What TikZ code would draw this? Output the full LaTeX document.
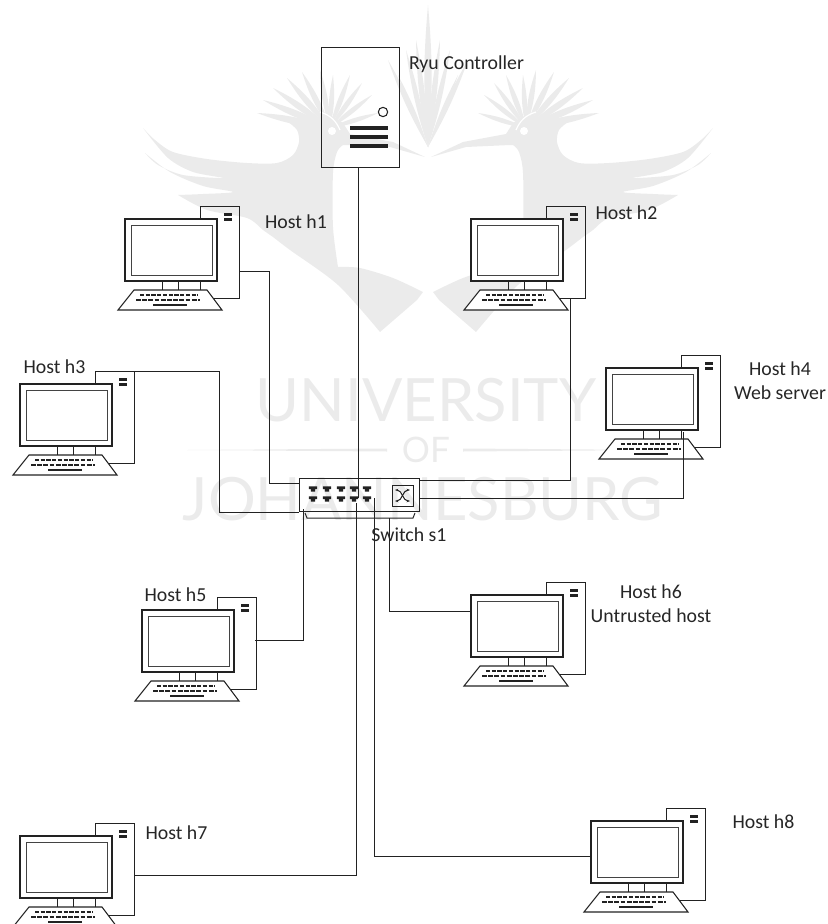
\documentclass[tikz,border=0pt]{standalone}
\usepackage{fontspec}
\setmainfont{Carlito}
\newfontfamily\crestfont{Lato}
\usepackage{xcolor}
\usetikzlibrary{arrows.meta}
\definecolor{ujgray}{HTML}{EBEBEB}
\definecolor{pcline}{HTML}{222222}
\tikzset{
  link/.style={pcline, line width=0.75pt},
  tower/.style={draw=pcline, line width=0.75pt, minimum width=1.17cm, minimum height=2.76cm, inner sep=0pt, outer sep=0pt, anchor=north west},
  hostlabel/.style={font=\fontsize{16.9}{20.5}\selectfont, text=black!85, align=center, inner sep=0pt},
  crest/.style={text=ujgray, inner sep=0pt, text depth=0pt, font=\crestfont},
  hostpc/.pic={
    \fill[pcline] (24,7) rectangle (32,10);
    \fill[pcline] (24,12) rectangle (32,15);
    \draw[pcline, fill=white, line width=0.9pt] (-75,13) rectangle (17,75);
    \draw[pcline, line width=1.5pt] (-8,13) -- (17,13) -- (17,75) -- (-20,75);
    \draw[pcline!85, line width=0.8pt] (-69,19) rectangle (12,69);
    \draw[pcline, line width=0.8pt] (-38,75) -- (-38,84) (-22,75) -- (-22,84);
    \draw[pcline, fill=white, line width=0.9pt] (-66,84) -- (7,84) -- (22,104) -- (-82,104) -- cycle;
    \draw[pcline, line width=2.2pt, dash pattern=on 3.6pt off 1.3pt] (-60,89) -- (-2,89);
    \draw[pcline, line width=2.4pt, dash pattern=on 4pt off 1.3pt] (-64,94) -- (0,94);
    \fill[pcline] (-47,97.6) rectangle (-13,100.4);
  },
  rjport/.pic={
    \fill[pcline] (-4.2,-2.7) -- (4.2,-2.7) -- (4.2,0) -- (2.2,0) -- (2.2,2.7) -- (-2.2,2.7) -- (-2.2,0) -- (-4.2,0) -- cycle;
  }
}

\begin{document}
\begin{tikzpicture}[x=0.03cm, y=-0.03cm]
  \useasboundingbox (0,0) rectangle (827,924);

  \foreach \s in {1,-1} {
    \begin{scope}[shift={(428,0)}, xscale=\s]
      \fill[ujgray] plot[smooth] coordinates {(-285,128) (-273,140) (-255,152) (-221,159) (-181,163) (-151,163) (-135,155) (-129,142) (-131,130) (-140,122)}
        -- (-98,115) -- (-85,123) -- (-78,134) -- (-35,142) -- (-3,157) -- (-38,147) -- (-82,145)
        -- plot[smooth] coordinates {(-85,145) (-91,152) (-95,173) (-95,227) (-90,267)}
        -- plot[smooth] coordinates {(-90,267) (-68,268) (-35,278) (-5,292)}
        -- (-11,300)
        -- plot[smooth] coordinates {(-48,332) (-90,285) (-138,250) (-155,237)}
        -- plot[smooth] coordinates {(-155,237) (-165,230) (-181,218) (-221,210) (-250,195)}
        -- plot[smooth] coordinates {(-250,195) (-225,194) (-195,192) (-225,186) (-258,172) (-283,153)}
        -- plot[smooth] coordinates {(-283,153) (-270,165) (-245,175) (-205,178) (-235,172) (-260,158) (-285,128)}
        -- cycle;
      \foreach \tx/\ty in {-171/113,-165/100,-155/88,-141/78,-126/72,-108/70,-95/75,-78/75,-66/83,-56/95,-50/113} {
        \fill[ujgray] (-98,128) to[bend left=9] (\tx,\ty) to[bend left=9] cycle;
      }
      \fill[white] (-96,131) circle (4);
      \draw[white, line width=1pt] (-108,112) to[bend left=25] (-88,130);
    \end{scope}
  }
  \foreach \tx/\ty in {-40/60,-22/50,-12/40,0/5,12/40,22/50,40/60,-30/75,30/75} {
    \fill[ujgray] (428+0,147) to[bend left=5] (428+\tx,\ty) to[bend left=5] cycle;
  }

  \node[crest, anchor=center] (wmuni) at (426,400) {\fontsize{51}{51}\selectfont UNIVERSITY};
  \node[crest, anchor=center] (wmof) at (426,450) {\fontsize{30}{30}\selectfont OF};
  \node[crest, anchor=center] (wmjoh) at (423,498.5) {\fontsize{51}{51}\selectfont JOHANNESBURG};
  \fill[ujgray] (187,450) -- (387,448.5) -- (387,451.5) -- cycle;
  \fill[ujgray] (463,448.5) -- (660,450) -- (463,451.5) -- cycle;

  \foreach \n/\x/\y in {h1/200/206, h2/546/206, h3/95/371, h4/681/355, h5/217/597, h6/546/582, h7/95/823, h8/666/808} {
    \node[tower] (\n) at (\x,\y) {};
    \pic at (\n.north west) {hostpc};
  }

  \node[draw=pcline, line width=0.8pt, minimum width=2.34cm, minimum height=3.6cm, inner sep=0pt, outer sep=0pt, anchor=north west] (ctrl) at (321,47) {};
  \node[draw=pcline, line width=0.9pt, circle, minimum size=0.28cm, inner sep=0pt] (ctrlled) at (383,112) {};
  \foreach \y in {128,137,146} {
    \draw[pcline, line width=2.7pt] (350,\y) -- (388,\y);
  }

  \node[draw=pcline, line width=0.85pt, minimum width=3.6cm, minimum height=0.99cm, inner sep=0pt, outer sep=0pt, anchor=north west] (s1) at (299,478) {};
  \draw[pcline, line width=0.85pt] (305,513) -- (307,518) -- (413,518) -- (415,513);
  \foreach \x in {313,327,341,354,367} {
    \pic at (\x,489) {rjport};
    \pic at (\x,499) {rjport};
  }
  \node[draw=pcline, line width=0.9pt, minimum size=0.63cm, inner sep=0pt, anchor=north west] (s1icon) at (392,485) {};
  \draw[pcline, line width=0.9pt, {Stealth[length=3pt]}-{Stealth[length=3pt]}] (395,490) to[out=0, in=180] (410,501);
  \draw[pcline, line width=0.9pt, {Stealth[length=3pt]}-{Stealth[length=3pt]}] (395,501) to[out=0, in=180] (410,490);

  \coordinate (h1p) at (239,271);
  \coordinate (h2p) at (570,298);
  \coordinate (h4p) at (683,432);
  \coordinate (h5p) at (255,640);
  \coordinate (h6p) at (470,611);
  \coordinate (h7p) at (134,875);
  \coordinate (h8p) at (590,856);
  \coordinate (s1c) at (358.9,498);
  \coordinate (s1h1) at (299,483);
  \coordinate (s1h2) at (419,480);
  \coordinate (s1h3) at (299,512);
  \coordinate (s1h4) at (419,498);
  \coordinate (s1h5) at (303,509);
  \coordinate (s1h6) at (389,518);
  \coordinate (s1h7) at (356,503);
  \coordinate (s1h8) at (374,498);

  \draw[link] (ctrl.south -| s1c) -- (s1c);
  \draw[link] (h1p) -- +(30,0) |- (s1h1);
  \draw[link] (h2p) |- (s1h2);
  \draw[link] (h3.north east) -- +(85,0) |- (s1h3);
  \draw[link] (h4p) |- (s1h4);
  \draw[link] (h5p) -| (s1h5);
  \draw[link] (h6p) -| (s1h6);
  \draw[link] (h7p) -| (s1h7);
  \draw[link] (h8p) -| (s1h8);

  \node[hostlabel] (lctrl) at (466.5,64) {Ryu Controller};
  \node[hostlabel] (lh1) at (296,222) {Host h1};
  \node[hostlabel] (lh2) at (626.5,213) {Host h2};
  \node[hostlabel] (lh3) at (54.5,367) {Host h3};
  \node[hostlabel] (lh4) at (780,381) {Host h4\\Web server};
  \node[hostlabel] (lh5) at (175.5,595) {Host h5};
  \node[hostlabel] (lh6) at (651,604) {Host h6\\Untrusted host};
  \node[hostlabel] (lh7) at (176.5,833) {Host h7};
  \node[hostlabel] (lh8) at (763.5,822) {Host h8};
  \node[hostlabel] (ls1) at (409,535) {Switch s1};
\end{tikzpicture}
\end{document}
